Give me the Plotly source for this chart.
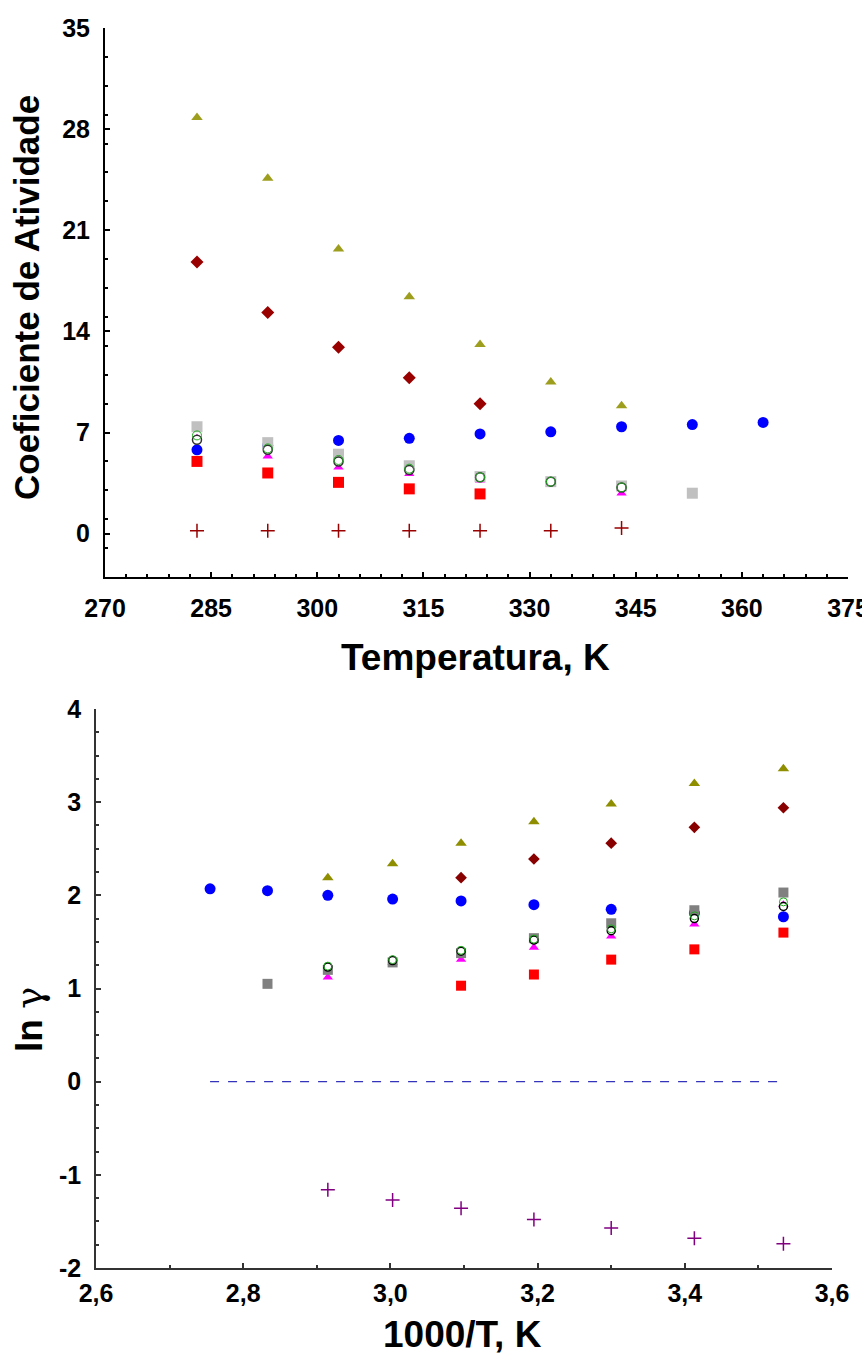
import plotly.graph_objects as go

W, H = 862, 1359

# ---------------- data ----------------
T = [283, 293, 303, 313, 323, 333, 343, 353, 363]
invT = [3.534, 3.413, 3.300, 3.195, 3.096, 3.003, 2.915, 2.833, 2.755]

# top panel: activity coefficient vs temperature
top_olive = [28.8, 24.6, 19.7, 16.4, 13.1, 10.5, 8.85]
top_darkred = [18.8, 15.3, 12.9, 10.8, 9.0]
top_blue = [5.8, 6.1, 6.45, 6.6, 6.9, 7.05, 7.4, 7.55, 7.7]
top_gray = [7.4, 6.3, 5.5, 4.7, 3.95, 3.6, 3.3, 2.8]
top_black_circ = [6.5, 5.8, 5.0, 4.4, 3.9, 3.6, 3.2]
top_green_circ = [6.8, 5.9, 5.1, 4.5, 3.9, 3.6, 3.2]
top_magenta = [6.6, 5.35, 4.6, 4.15, 3.7, 3.4, 2.8]
top_red = [5.0, 4.2, 3.55, 3.1, 2.75]
top_plus = [0.2, 0.2, 0.2, 0.2, 0.2, 0.2, 0.4]

top_xticks = [270, 285, 300, 315, 330, 345, 360, 375]
top_yticks = [0, 7, 14, 21, 28, 35]

# bottom panel: ln(gamma) vs 1000/T
bot_olive = [3.36, 3.2, 2.98, 2.79, 2.56, 2.34, 2.19]
bot_darkred = [2.94, 2.73, 2.56, 2.39, 2.19]
bot_blue = [1.77, 1.81, 1.85, 1.9, 1.94, 1.96, 2.0, 2.05, 2.07]
bot_gray = [2.03, 1.84, 1.70, 1.54, 1.38, 1.28, 1.2, 1.05]
bot_black_circ = [1.88, 1.75, 1.62, 1.52, 1.4, 1.3, 1.23]
bot_green_circ = [1.93, 1.78, 1.64, 1.53, 1.41, 1.31, 1.24]
bot_magenta = [1.9, 1.69, 1.56, 1.44, 1.31, 1.28, 1.12]
bot_red = [1.6, 1.42, 1.31, 1.15, 1.03]
bot_plus = [-1.74, -1.68, -1.57, -1.48, -1.36, -1.27, -1.16]
zero_x = [2.755, 3.534]
zero_y = [0, 0]

bot_xticks = [2.6, 2.8, 3.0, 3.2, 3.4, 3.6]
bot_xtext = ["2,6", "2,8", "3,0", "3,2", "3,4", "3,6"]
bot_yticks = [-2, -1, 0, 1, 2, 3, 4]
bot_ytext = ["-2", "-1", "0", "1", "2", "3", "4"]

FONT = "Liberation Sans, Arial, sans-serif"

fig = go.Figure()


def sc(x, y, xa, ya, color, symbol, size, line_color=None, line_w=0):
    fig.add_trace(go.Scatter(
        x=x[:len(y)], y=y, mode="markers", xaxis=xa, yaxis=ya,
        marker=dict(color=color, symbol=symbol, size=size,
                    line=dict(color=line_color or color, width=line_w)),
        showlegend=False, hoverinfo="skip"))


# top panel traces
sc(T, top_blue, "x", "y", "#0000FF", "circle", 11)
sc(T, top_magenta, "x", "y", "#FF00FF", "triangle-up", 9)
sc(T, top_red, "x", "y", "#FF0000", "square", 11)
sc(T, top_gray, "x", "y", "#C0C0C0", "square", 11)
sc(T, top_black_circ, "x", "y", "#FFFFFF", "circle", 9, "#303030", 1.5)
sc(T, top_green_circ, "x", "y", "rgba(0,0,0,0)", "circle", 9, "#22AA22", 1)
sc(T, top_olive, "x", "y", "#9E9E1E", "triangle-up", 10)
sc(T, top_darkred, "x", "y", "#990000", "diamond", 10)
sc(T, top_plus, "x", "y", "#990000", "cross-thin", 10, "#990000", 1.5)

# bottom panel traces
fig.add_trace(go.Scatter(x=zero_x, y=zero_y, mode="lines", xaxis="x2", yaxis="y2",
                         line=dict(color="#3333BB", width=1.3, dash="dash"),
                         showlegend=False, hoverinfo="skip"))
sc(invT, bot_blue, "x2", "y2", "#0000FF", "circle", 11)
sc(invT, bot_magenta, "x2", "y2", "#FF00FF", "triangle-up", 9)
sc(invT, bot_red, "x2", "y2", "#FF0000", "square", 10)
sc(invT, bot_gray, "x2", "y2", "#808080", "square", 10)
sc(invT, bot_black_circ, "x2", "y2", "#FFFFFF", "circle", 8, "#000000", 1.5)
sc(invT, bot_green_circ, "x2", "y2", "rgba(0,0,0,0)", "circle", 8, "#22AA22", 1)
sc(invT, bot_olive, "x2", "y2", "#8E8E00", "triangle-up", 10)
sc(invT, bot_darkred, "x2", "y2", "#880000", "diamond", 9)
sc(invT, bot_plus, "x2", "y2", "#800080", "cross-thin", 10, "#800080", 1.5)

tickfont = dict(family=FONT, size=25, color="#000000", weight="bold")

common = dict(showgrid=False, zeroline=False, automargin=False, tickfont=tickfont,
              ticks="inside", ticklen=5, tickwidth=1.5, showline=True,
              ticklabeloverflow="allow")

fig.update_layout(
    width=W, height=H, margin=dict(l=0, r=0, t=0, b=0, autoexpand=False),
    paper_bgcolor="white", plot_bgcolor="white",
    xaxis=dict(domain=[105 / W, 848 / W], range=[270, 375], anchor="y",
               tickvals=top_xticks, tickcolor="black", linecolor="black", linewidth=2,
               minor=dict(dtick=3, tick0=270, ticks="inside", ticklen=3, tickcolor="black"),
               ticklabelstandoff=8, **common),
    yaxis=dict(domain=[1 - 577 / H, 1 - 28 / H], range=[-3, 35], anchor="x",
               tickvals=top_yticks, tickcolor="black", linecolor="black", linewidth=2,
               minor=dict(dtick=2, tick0=1, ticks="inside", ticklen=3, tickcolor="black"),
               ticklabelstandoff=8, **common),
    xaxis2=dict(domain=[96 / W, 832 / W], range=[2.6, 3.6], anchor="y2",
                tickvals=bot_xticks, ticktext=bot_xtext, tickcolor="#333333",
                linecolor="#333333", linewidth=1.5,
                minor=dict(dtick=0.1, tick0=2.6, ticks="inside", ticklen=3, tickcolor="#333333"),
                ticklabelstandoff=2, **common),
    yaxis2=dict(domain=[1 - 1268 / H, 1 - 709 / H], range=[-2, 4], anchor="x2",
                tickvals=bot_yticks, ticktext=bot_ytext, tickcolor="#333333",
                linecolor="#333333", linewidth=1.5,
                minor=dict(dtick=0.25, tick0=0, ticks="inside", ticklen=3, tickcolor="#333333"),
                ticklabelstandoff=8, **common),
)

title_font = dict(family=FONT, size=37, color="#000000")
ann = [
    dict(text="<b>Temperatura, K</b>", x=475 / W, y=1 - 658 / H),
    dict(text="<b>Coeficiente de Atividade</b>", x=27 / W, y=1 - 298 / H, textangle=-90,
         font=dict(family=FONT, size=35, color="#000000")),
    dict(text="<b>1000/T, K</b>", x=462 / W, y=1 - 1334 / H),
    dict(text="<b>ln</b> <span style='font-family:DejaVu Serif'>γ</span>",
         x=30 / W, y=1 - 1020 / H, textangle=-90),
]
for a in ann:
    a.setdefault("font", title_font)
    fig.add_annotation(xref="paper", yref="paper", showarrow=False,
                       xanchor="center", yanchor="middle", **a)

fig.write_html("out.html")
